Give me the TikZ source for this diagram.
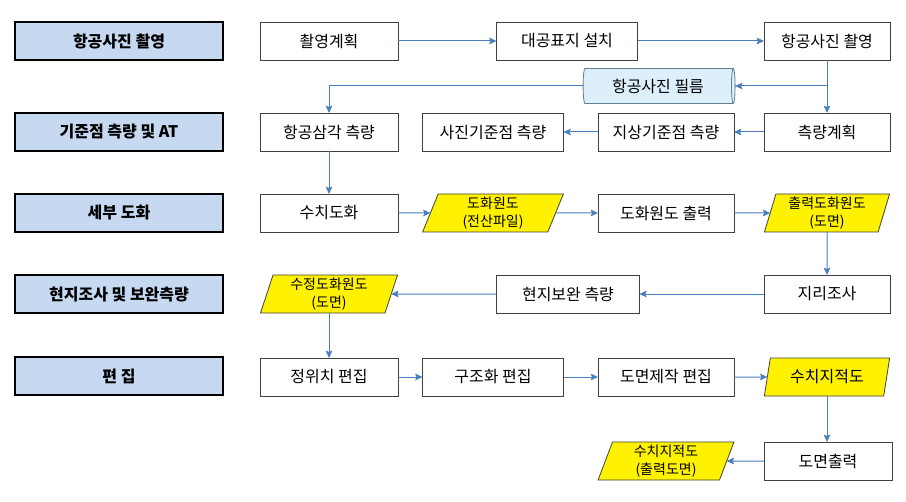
\documentclass[tikz,border=0pt]{standalone}
\usepackage{fontspec}
\setmainfont{Noto Sans CJK KR}
\usetikzlibrary{shapes.geometric,arrows.meta}
\definecolor{stageblue}{HTML}{C6D9F1}
\definecolor{linkblue}{HTML}{4A7EBB}
\definecolor{boxgray}{HTML}{404040}
\definecolor{filmblue}{HTML}{DCEFFA}
\definecolor{filmline}{HTML}{5F7F99}

\begin{document}
\begin{tikzpicture}[x=0.75pt, y=-0.75pt, outer sep=0pt, inner sep=0pt]
\useasboundingbox (0,0) rectangle (906,502);

\tikzstyle{stage}=[draw, line width=1pt, fill=stageblue, rectangle, minimum width=156pt, minimum height=28.5pt, font=\fontsize{12}{14}\selectfont\bfseries]
\tikzstyle{task}=[draw=boxgray, line width=0.6pt, fill=white, rectangle, minimum height=28.5pt, font=\fontsize{12}{14}\selectfont]
\tikzstyle{data}=[draw=boxgray, line width=0.6pt, fill=yellow, trapezium, trapezium left angle=75, trapezium right angle=105, trapezium stretches=true, minimum height=28.5pt, align=center, font=\fontsize{10.5}{13.5}\selectfont]
\tikzstyle{link}=[draw=linkblue, line width=0.75pt, -{Stealth[length=5.5pt,width=5pt,inset=1pt]}]

\node[stage] (stage1) at (119,41) {항공사진 촬영};
\node[stage] (stage2) at (119,132) {기준점 측량 및 AT};
\node[stage] (stage3) at (119,213) {세부 도화};
\node[stage] (stage4) at (119,294) {현지조사 및 보완측량};
\node[stage] (stage5) at (119,376) {편 집};

\node[task, minimum width=103.5pt] (plan1) at (329,41) {촬영계획}; \node[task, minimum width=105.75pt] (target) at (567,41) {대공표지 설치}; \node[task, minimum width=94.5pt] (shoot) at (827,41) {항공사진 촬영};
\node[cylinder, draw=filmline, line width=0.6pt, fill=filmblue, aspect=0.25, minimum height=114pt, minimum width=26.25pt, font=\fontsize{12}{14}\selectfont] (film) at (658,86) {항공사진 필름};

\node[task, minimum width=103.5pt] (aero) at (329,132) {항공삼각 측량}; \node[task, minimum width=105.75pt] (pcp) at (493,132) {사진기준점 측량};
\node[task, minimum width=102pt] (gcp) at (666,132) {지상기준점 측량}; \node[task, minimum width=94.5pt] (plan2) at (827,132) {측량계획};

\node[task, minimum width=103.5pt] (digit) at (329,213) {수치도화}; \node[data, minimum width=105.75pt] (draft1) at (493,213) {도화원도\\(전산파일)};
\node[task, minimum width=102pt] (print1) at (666,213) {도화원도 출력}; \node[data, minimum width=94.5pt] (draft2) at (827,213) {출력도화원도\\(도면)};

\node[data, minimum width=103.5pt] (draft3) at (329,294) {수정도화원도\\(도면)}; \node[task, minimum width=107pt] (field) at (568,294) {현지보완 측량};
\node[task, minimum width=94.5pt] (survey) at (827,294) {지리조사};

\node[task, minimum width=103.5pt] (edit1) at (329,377) {정위치 편집}; \node[task, minimum width=105.75pt] (edit2) at (493,377) {구조화 편집};
\node[task, minimum width=102pt] (edit3) at (666,377) {도면제작 편집}; \node[data, minimum width=94.5pt, font=\fontsize{12}{14}\selectfont] (cadmap) at (827,377) {수치지적도};

\node[data, minimum width=102pt] (cadout) at (666,461) {수치지적도\\(출력도면)}; \node[task, minimum width=96pt] (print2) at (828,461) {도면출력};

\draw[link] (plan1) -- (target); \draw[link] (target) -- (shoot);
\draw[link] (shoot) -- (plan2);
\draw[link] (shoot.south |- film.east) -- (film.east);
\draw[link] (film.west) -| (aero.north);
\draw[link] (plan2) -- (gcp); \draw[link] (gcp) -- (pcp);
\draw[link] (aero) -- (digit);
\draw[link] (digit) -- (draft1); \draw[link] (draft1) -- (print1); \draw[link] (print1) -- (draft2);
\draw[link] (draft2) -- (survey);
\draw[link] (survey) -- (field); \draw[link] (field) -- (draft3);
\draw[link] (draft3) -- (edit1);
\draw[link] (edit1) -- (edit2); \draw[link] (edit2) -- (edit3); \draw[link] (edit3) -- (cadmap);
\draw[link] (cadmap.south) -- (cadmap.south |- print2.north);
\draw[link] (print2) -- (cadout);
\end{tikzpicture}
\end{document}
